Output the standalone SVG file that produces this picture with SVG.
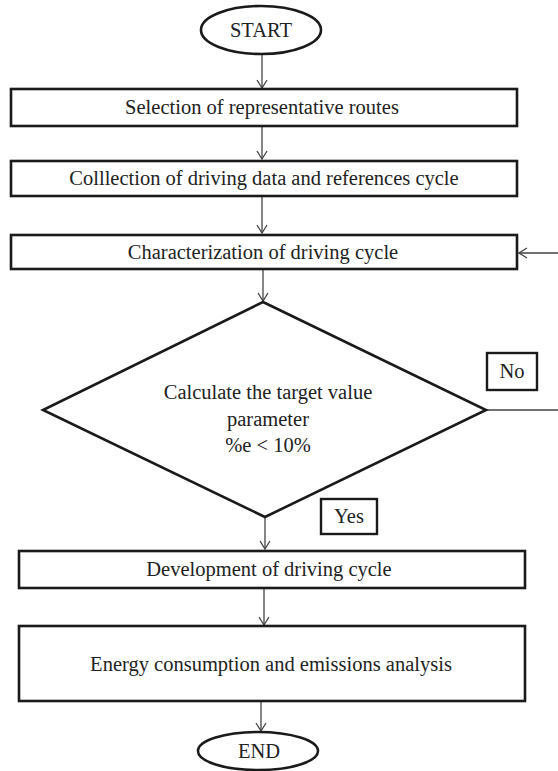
<svg xmlns="http://www.w3.org/2000/svg" width="558" height="771" viewBox="0 0 558 771">
<defs>
<marker id="arr" markerWidth="12" markerHeight="12" refX="11" refY="6" orient="auto" markerUnits="userSpaceOnUse" viewBox="0 0 12 12">
<path d="M3,1 L11,6 L3,11" fill="none" stroke="#444" stroke-width="1.3"/>
</marker>
</defs>
<style>
.box{fill:#fff;stroke:#1a1a1a;stroke-width:2.6}
.lbl{fill:#fff;stroke:#1a1a1a;stroke-width:2.4}
.t{font-family:"Liberation Serif","Times New Roman","DejaVu Serif",serif;font-size:20.5px;fill:#222;text-anchor:middle}
.c{fill:none;stroke:#444;stroke-width:1.3}
</style>
<rect width="558" height="771" fill="#fff"/>
<g id="connectors">
<line class="c" x1="262" y1="55" x2="262" y2="88" marker-end="url(#arr)"/>
<line class="c" x1="262" y1="127" x2="262" y2="159" marker-end="url(#arr)"/>
<line class="c" x1="262" y1="197" x2="262" y2="233" marker-end="url(#arr)"/>
<line class="c" x1="263" y1="270" x2="263" y2="301" marker-end="url(#arr)"/>
<line class="c" x1="265" y1="518" x2="265" y2="549" marker-end="url(#arr)"/>
<line class="c" x1="264" y1="589" x2="264" y2="625" marker-end="url(#arr)"/>
<line class="c" x1="261" y1="702" x2="261" y2="731" marker-end="url(#arr)"/>
<path class="c" d="M486,410 H562 V253 H519" marker-end="url(#arr)"/>
</g>
<g id="start">
<ellipse class="box" cx="261" cy="30" rx="60" ry="24"/>
<text class="t" font-family="Liberation Serif, serif" x="261" y="37">START</text>
</g>
<g id="selection">
<rect class="box" x="11" y="89" width="506" height="37"/>
<text class="t" x="262" y="114">Selection of representative routes</text>
</g>
<g id="collection">
<rect class="box" x="11" y="161" width="506" height="35"/>
<text class="t" x="264" y="185">Colllection of driving data and references cycle</text>
</g>
<g id="characterization">
<rect class="box" x="11" y="235" width="506" height="34"/>
<text class="t" x="263" y="259">Characterization of driving cycle</text>
</g>
<g id="decision">
<polygon class="box" points="263,302 486,410 265,517 43,410"/>
<text class="t" x="268" y="399">Calculate the target value</text>
<text class="t" x="268" y="426">parameter</text>
<text class="t" x="268" y="452">%e &lt; 10%</text>
</g>
<g id="no-label">
<rect class="lbl" x="487" y="353" width="50" height="37"/>
<text class="t" x="512" y="378">No</text>
</g>
<g id="yes-label">
<rect class="lbl" x="321" y="499" width="56" height="35"/>
<text class="t" x="349" y="523">Yes</text>
</g>
<g id="development">
<rect class="box" x="19" y="551" width="506" height="37"/>
<text class="t" x="269" y="576">Development of driving cycle</text>
</g>
<g id="energy">
<rect class="box" x="19" y="626" width="506" height="75"/>
<text class="t" x="271" y="671">Energy consumption and emissions analysis</text>
</g>
<g id="end">
<ellipse class="box" cx="258" cy="751" rx="60" ry="19"/>
<text class="t" x="259" y="758">END</text>
</g>
</svg>
